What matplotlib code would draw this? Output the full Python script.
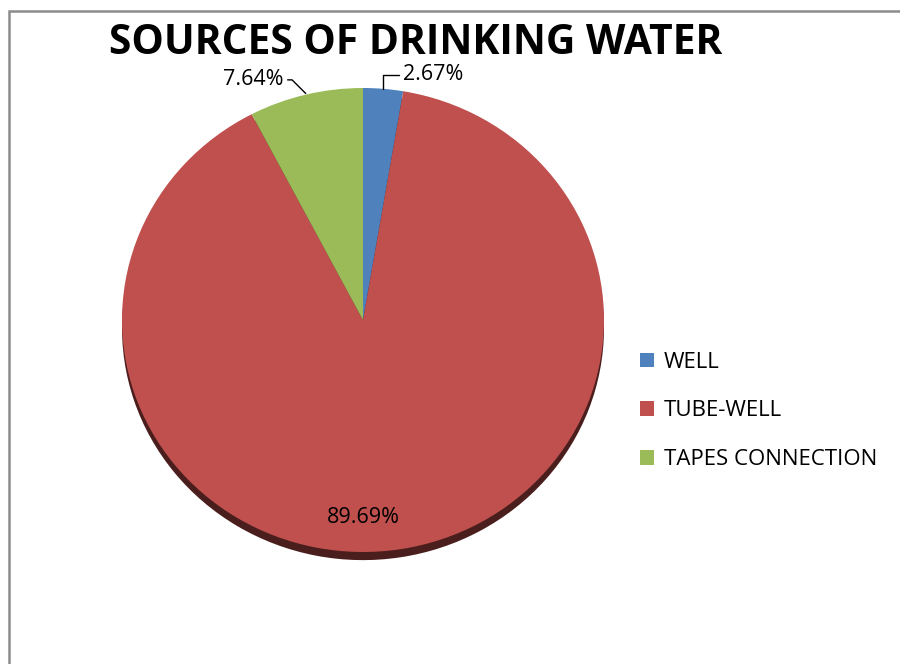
import matplotlib.pyplot as plt
from matplotlib.patches import Rectangle
import numpy as np

plt.rcParams['font.family'] = ['Open Sans', 'DejaVu Sans']

sources = ['WELL', 'TUBE-WELL', 'TAPES CONNECTION']
shares = [2.67, 89.69, 7.64]
colors = ['#4F81BD', '#C0504D', '#9BBB59']
shadow_colors = ['#1F3350', '#4A1E1D', '#3D4A23']

W, H = 900, 664
fig = plt.figure(figsize=(W / 100, H / 100), dpi=100)

# grey frame of the chart area (runs off right and bottom edge)
fig.patches.append(Rectangle((8.5 / W, -0.05), 1.1, 1 - 10.5 / H + 0.05,
                             transform=fig.transFigure, fill=False,
                             edgecolor='#8c8c8c', linewidth=1.8))

fig.text(416 / W, 1 - 44 / H, 'SOURCES OF DRINKING WATER', ha='center', va='center',
         fontsize=29.3, fontweight='bold')

# pie axes, slightly squashed like the 3D look of the original
left, right, top, bottom = 122, 604, 88, 552
ax = fig.add_axes([left / W, 1 - bottom / H, (right - left) / W, (bottom - top) / H])

# thin dark rim under the pie
ax.pie(shares, colors=shadow_colors, startangle=90, counterclock=False,
       radius=1.0, center=(0, -0.035), wedgeprops=dict(linewidth=0, zorder=1))
wedges, _ = ax.pie(shares, colors=colors, startangle=90, counterclock=False,
                   radius=1.0, wedgeprops=dict(linewidth=0, zorder=2))
ax.set_aspect('auto')
ax.set_xlim(-1, 1)
ax.set_ylim(-1.0, 1.0)
ax.axis('off')

fmt = '{:.2f}%'
lbl_size = 15.5
# WELL label with bracket leader
w = wedges[0]
a = np.deg2rad((w.theta1 + w.theta2) / 2)
ax.annotate(fmt.format(shares[0]), xy=(np.cos(a), np.sin(a)), xytext=(0.165, 1.058),
            ha='left', va='center', fontsize=lbl_size,
            arrowprops=dict(arrowstyle='-', color='black', lw=1,
                            shrinkA=1, shrinkB=0,
                            connectionstyle='angle,angleA=0,angleB=90,rad=0'),
            zorder=5)
# TAPES CONNECTION label
w = wedges[2]
a = np.deg2rad((w.theta1 + w.theta2) / 2)
ax.annotate(fmt.format(shares[2]), xy=(np.cos(a), np.sin(a) + 0.005),
            xytext=(-0.33, 1.035), ha='right', va='center', fontsize=lbl_size,
            arrowprops=dict(arrowstyle='-', color='black', lw=1,
                            shrinkA=1, shrinkB=0,
                            connectionstyle='angle,angleA=0,angleB=135,rad=0'),
            zorder=5)
# TUBE-WELL label inside
ax.text(0.0, -0.85, fmt.format(shares[1]), ha='center', va='center',
        fontsize=lbl_size, zorder=5)

fig.legend(wedges, sources, loc='center left', bbox_to_anchor=(620 / W, 1 - 411 / H),
           frameon=False, fontsize=16, handlelength=0.62, handleheight=0.62,
           handletextpad=0.45, labelspacing=1.25)

fig.savefig('out.png', dpi=100)
